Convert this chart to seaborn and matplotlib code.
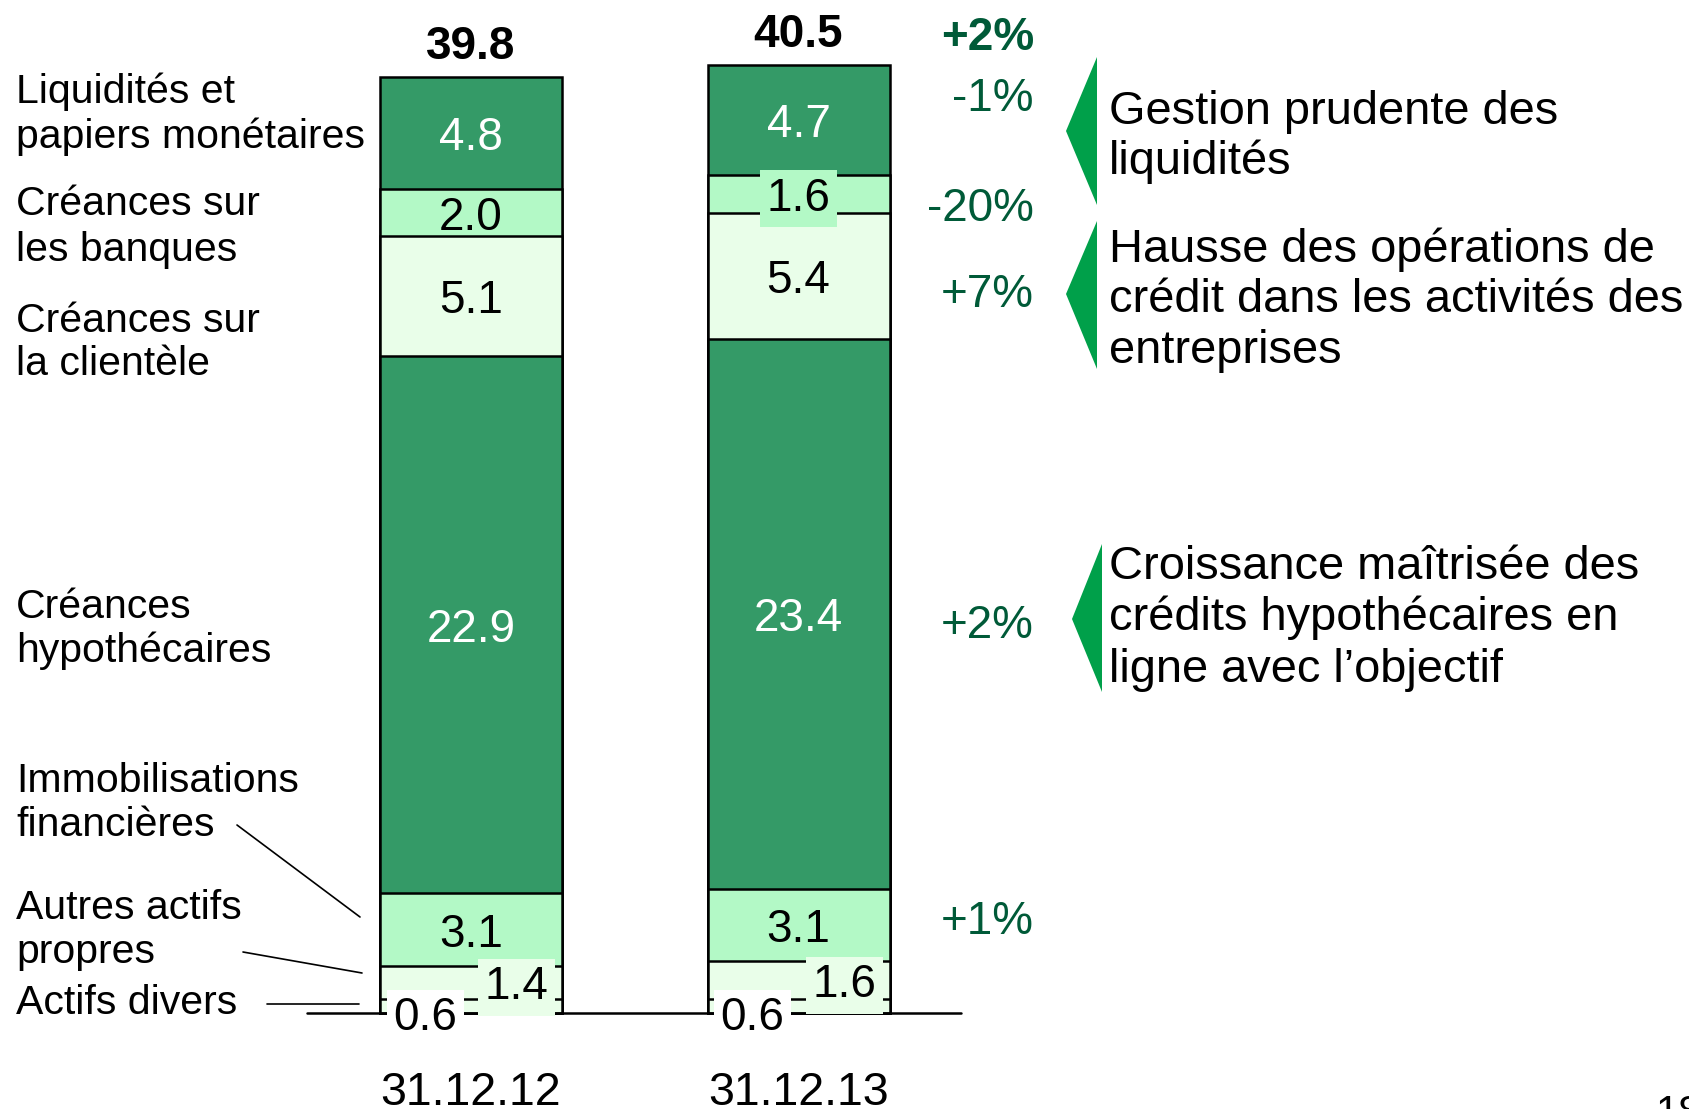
import numpy as np
import pandas as pd
import matplotlib
matplotlib.use('Agg')
import matplotlib.pyplot as plt
import seaborn as sns
from matplotlib.patches import Polygon

# --- data -------------------------------------------------------------
dates = ['31.12.12', '31.12.13']
categories = ['Actifs divers', 'Autres actifs propres', 'Immobilisations financières',
              'Créances hypothécaires', 'Créances sur la clientèle',
              'Créances sur les banques', 'Liquidités et papiers monétaires']
values_2012 = [0.6, 1.4, 3.1, 22.9, 5.1, 2.0, 4.8]
values_2013 = [0.6, 1.6, 3.1, 23.4, 5.4, 1.6, 4.7]
totals = ['39.8', '40.5']
changes = ['+2%', '-1%', '-20%', '+7%', '+2%', '+1%']
left_lines = ['Liquidités et', 'papiers monétaires', 'Créances sur', 'les banques',
              'Créances sur', 'la clientèle', 'Créances', 'hypothécaires',
              'Immobilisations', 'financières', 'Autres actifs', 'propres',
              'Actifs divers']
comments = [['Gestion prudente des', 'liquidités'],
            ['Hausse des opérations de', 'crédit dans les activités des', 'entreprises'],
            ['Croissance maîtrisée des', 'crédits hypothécaires en', 'ligne avec l\u2019objectif']]

# --- styles -----------------------------------------------------------
DARK = '#349A67'
LIGHT = '#B3F9C6'
PALE = '#E9FEE9'
seg_colors = [PALE, PALE, LIGHT, DARK, PALE, LIGHT, DARK]
PCT = '#005A38'
TRI = '#00A04A'

sns.set_style('white')
plt.rcParams['font.family'] = ['Liberation Sans', 'DejaVu Sans']

W, H = 1689, 1109
X0, XS = 471.0, 327.5     # pixel x of first bar centre, pixels per category
Y0, YS = 1013.0, 23.47    # pixel y of baseline, pixels per unit


def fx(p):
    return (p - X0) / XS


def fy(p):
    return (Y0 - p) / YS


df = pd.DataFrame({
    'date': np.repeat(dates, len(categories)),
    'category': categories * len(dates),
    'value': values_2012 + values_2013,
})
df['top'] = df.groupby('date')['value'].cumsum()
df['bottom'] = df['top'] - df['value']

fig = plt.figure(figsize=(W / 100, H / 100), dpi=100)
ax = fig.add_axes([0, 0, 1, 1])

# stacked bars: draw cumulative heights from the top segment down
for cat, col in reversed(list(zip(categories, seg_colors))):
    sub = df[df['category'] == cat]
    sns.barplot(data=sub, x='date', y='top', order=dates, color=col, saturation=1,
                width=182 / XS, edgecolor='black', linewidth=1.8, errorbar=None, ax=ax)

ax.set_xlim(fx(0), fx(W))
ax.set_ylim(fy(H), fy(0))
ax.set_axis_off()

# baseline
ax.plot([fx(307), fx(961)], [0, 0], color='black', lw=1.8, zorder=5)

# segment values
for j, d in enumerate(dates):
    sub = df[df['date'] == d].reset_index(drop=True)
    for i, row in sub.iterrows():
        x, y = j, row['bottom'] + row['value'] / 2
        box = None
        if i == 0:
            x, y = j - 0.14, 0
            box = dict(boxstyle='square,pad=0.14', fc='white', ec='none')
        elif i == 1:
            x = j + 0.14
            box = dict(boxstyle='square,pad=0.14', fc=PALE, ec='none')
        elif row['value'] < 1.9:
            box = dict(boxstyle='square,pad=0.14', fc=seg_colors[i], ec='none')
        tc = 'white' if seg_colors[i] == DARK else 'black'
        ax.text(x, y, f"{row['value']:.1f}", ha='center', va='center_baseline',
                fontsize=33, color=tc, bbox=box, zorder=6)
    ax.text(j, sub['top'].iloc[-1] + 0.75, totals[j], ha='center', va='baseline',
            fontsize=33, fontweight='bold', color='black')
    ax.text(j, fy(1088), d, ha='center', va='center_baseline', fontsize=33.5, color='black')

# category labels on the left
left_base = [103, 148, 215, 261, 332, 375, 618, 662, 792, 836, 919, 963, 1014]
for t, yb in zip(left_lines, left_base):
    ax.text(fx(16), fy(yb), t, ha='left', va='baseline', fontsize=29.5, color='black')

# leader lines
for (xa, ya), (xb, yb) in [((237, 825), (360, 917)), ((243, 952), (362, 973)),
                           ((267, 1004), (359, 1004))]:
    ax.plot([fx(xa), fx(xb)], [fy(ya), fy(yb)], color='black', lw=1.2)

# percentage changes
pct_base = [50, 111, 221, 307, 638, 934]
for k, (t, yb) in enumerate(zip(changes, pct_base)):
    ax.text(fx(1034), fy(yb), t, ha='right', va='baseline', fontsize=33, color=PCT,
            fontweight='bold' if k == 0 else 'normal')

# green pointers and comments
tris = [(1066, 1097, 57, 131, 205), (1066, 1097, 221, 294, 369), (1072, 1102, 544, 619, 692)]
com_base = [[124, 174], [262, 312, 363], [579, 630, 682]]
for (xt, xr, yt, ym, ybt), lines, bases in zip(tris, comments, com_base):
    ax.add_patch(Polygon([(fx(xt), fy(ym)), (fx(xr), fy(yt)), (fx(xr), fy(ybt))],
                         closed=True, color=TRI, lw=0))
    for t, yb in zip(lines, bases):
        ax.text(fx(1109), fy(yb), t, ha='left', va='baseline', fontsize=33.8, color='black')

# page number, cut by the page edge
ax.text(fx(1656), fy(1094), '18', ha='left', va='top', fontsize=30, color='black')

fig.savefig('out.png', dpi=100)
